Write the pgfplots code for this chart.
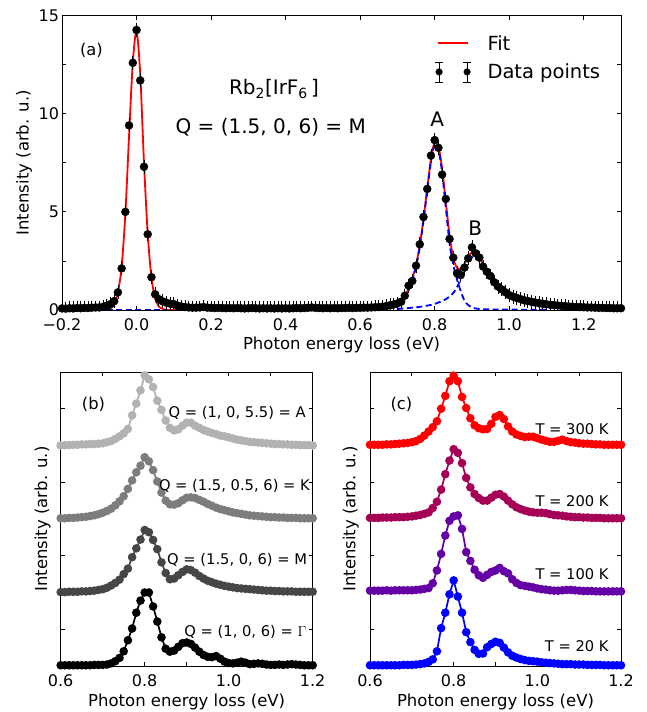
\documentclass[border=0pt]{standalone}
\usepackage{pgfplots}
\usepackage{pgfplotstable}
\pgfplotsset{compat=1.18}
\usepackage{fontspec}
\setmainfont{DejaVu Sans}

\definecolor{gA}{RGB}{178,178,178}
\definecolor{gK}{RGB}{125,125,125}
\definecolor{gM}{RGB}{70,70,70}
\definecolor{c300}{RGB}{255,0,0}
\definecolor{c200}{RGB}{165,0,85}
\definecolor{c100}{RGB}{100,0,165}
\definecolor{c20}{RGB}{0,0,255}

\pgfplotstableread{
x y
-0.20 0.08
-0.19 0.07
-0.18 0.09
-0.17 0.08
-0.16 0.10
-0.15 0.09
-0.14 0.11
-0.13 0.10
-0.12 0.12
-0.11 0.13
-0.10 0.13
-0.09 0.16
-0.08 0.22
-0.07 0.30
-0.06 0.45
-0.05 0.90
-0.04 2.12
-0.03 5.00
-0.02 9.41
-0.01 12.60
0.00 14.27
0.01 11.70
0.02 7.30
0.03 3.86
0.04 1.67
0.05 0.80
0.06 0.55
0.07 0.44
0.08 0.37
0.09 0.32
0.10 0.30
0.11 0.22
0.12 0.18
0.13 0.15
0.14 0.13
0.15 0.12
0.16 0.12
0.17 0.13
0.18 0.15
0.19 0.12
0.20 0.11
0.21 0.10
0.22 0.11
0.23 0.10
0.24 0.09
0.25 0.10
0.26 0.09
0.27 0.10
0.28 0.09
0.29 0.08
0.30 0.09
0.31 0.10
0.32 0.09
0.33 0.08
0.34 0.09
0.35 0.08
0.36 0.09
0.37 0.08
0.38 0.09
0.39 0.08
0.40 0.09
0.41 0.08
0.42 0.09
0.43 0.10
0.44 0.09
0.45 0.10
0.46 0.11
0.47 0.13
0.48 0.11
0.49 0.10
0.50 0.09
0.51 0.10
0.52 0.09
0.53 0.10
0.54 0.09
0.55 0.10
0.56 0.10
0.57 0.11
0.58 0.10
0.59 0.11
0.60 0.11
0.61 0.12
0.62 0.12
0.63 0.13
0.64 0.14
0.65 0.15
0.66 0.17
0.67 0.20
0.68 0.24
0.69 0.28
0.70 0.33
0.71 0.42
0.72 0.73
0.73 1.24
0.74 1.48
0.75 2.26
0.76 3.35
0.77 4.74
0.78 6.17
0.79 7.87
0.80 8.66
0.81 8.27
0.82 6.90
0.83 5.66
0.84 3.62
0.85 2.67
0.86 1.87
0.87 1.78
0.88 2.16
0.89 2.63
0.90 3.19
0.91 2.89
0.92 2.67
0.93 2.21
0.94 1.95
0.95 1.73
0.96 1.41
0.97 1.19
0.98 1.05
0.99 0.90
1.00 0.76
1.01 0.68
1.02 0.62
1.03 0.56
1.04 0.50
1.05 0.46
1.06 0.42
1.07 0.38
1.08 0.35
1.09 0.32
1.10 0.29
1.11 0.27
1.12 0.25
1.13 0.23
1.14 0.21
1.15 0.20
1.16 0.18
1.17 0.17
1.18 0.16
1.19 0.15
1.20 0.14
1.21 0.13
1.22 0.13
1.23 0.12
1.24 0.11
1.25 0.11
1.26 0.10
1.27 0.10
1.28 0.09
1.29 0.09
1.30 0.09
}\topdata

\pgfplotstableread{
x y
-0.20 0
-0.10 0
-0.08 0.02
-0.07 0.08
-0.06 0.30
-0.05 0.90
-0.04 2.20
-0.03 4.90
-0.02 8.90
-0.01 12.60
0.00 14.20
0.01 12.00
0.02 7.50
0.03 3.90
0.04 1.65
0.05 0.60
0.06 0.18
0.07 0.05
0.08 0.01
0.10 0
0.40 0
0.60 0.03
0.65 0.06
0.68 0.13
0.70 0.25
0.71 0.40
0.72 0.70
0.73 1.10
0.74 1.60
0.75 2.30
0.76 3.30
0.77 4.65
0.78 6.20
0.79 7.70
0.80 8.55
0.81 8.35
0.82 7.20
0.83 5.50
0.84 3.80
0.85 2.65
0.86 2.15
0.87 2.10
0.88 2.35
0.89 2.70
0.90 2.95
0.91 2.92
0.92 2.68
0.93 2.35
0.94 2.00
0.95 1.68
0.96 1.40
0.97 1.17
0.98 0.98
0.99 0.82
1.00 0.70
1.02 0.52
1.05 0.38
1.10 0.22
1.15 0.13
1.20 0.08
1.30 0.03
}\fitdata

\pgfplotstableread{
x y
0.60 0.02
0.65 0.05
0.68 0.10
0.70 0.20
0.71 0.32
0.72 0.60
0.73 1.00
0.74 1.50
0.75 2.20
0.76 3.20
0.77 4.55
0.78 6.05
0.79 7.55
0.80 8.45
0.81 8.20
0.82 7.00
0.83 5.20
0.84 3.40
0.85 2.30
0.86 1.55
0.87 0.95
0.88 0.48
0.89 0.25
0.90 0.12
0.92 0.05
0.95 0.03
1.00 0.02
1.10 0.01
}\compA

\pgfplotstableread{
x y
0.70 0.05
0.73 0.10
0.76 0.16
0.79 0.26
0.81 0.38
0.83 0.55
0.84 0.68
0.85 0.87
0.86 1.17
0.87 1.55
0.88 1.98
0.89 2.40
0.90 2.70
0.91 2.80
0.92 2.62
0.93 2.30
0.94 1.97
0.95 1.65
0.96 1.37
0.97 1.14
0.98 0.95
0.99 0.79
1.00 0.66
1.02 0.47
1.05 0.30
1.10 0.15
1.15 0.08
1.20 0.04
1.30 0.01
}\compB

\pgfplotstableread{
x A K M G
0.60 6.00 4.02 2.01 0.02
0.61 6.01 4.02 2.01 0.02
0.62 6.01 4.03 2.02 0.02
0.63 6.02 4.03 2.02 0.02
0.64 6.02 4.04 2.02 0.02
0.65 6.03 4.05 2.03 0.02
0.66 6.03 4.06 2.03 0.02
0.67 6.04 4.08 2.04 0.02
0.68 6.04 4.10 2.05 0.03
0.69 6.05 4.13 2.07 0.03
0.70 6.06 4.17 2.09 0.03
0.71 6.09 4.22 2.13 0.04
0.72 6.12 4.28 2.19 0.07
0.73 6.18 4.37 2.26 0.13
0.74 6.25 4.48 2.35 0.22
0.75 6.33 4.62 2.50 0.40
0.76 6.45 4.82 2.65 0.70
0.77 6.82 5.05 2.96 1.02
0.78 7.14 5.27 3.20 1.45
0.79 7.50 5.45 3.44 1.78
0.80 7.91 5.68 3.70 2.00
0.81 7.80 5.57 3.64 2.00
0.82 7.59 5.33 3.43 1.62
0.83 7.22 5.02 3.18 1.21
0.84 6.97 4.72 2.82 0.78
0.85 6.68 4.50 2.53 0.47
0.86 6.48 4.40 2.36 0.39
0.87 6.41 4.39 2.38 0.42
0.88 6.44 4.43 2.47 0.52
0.89 6.54 4.51 2.56 0.62
0.90 6.62 4.58 2.63 0.64
0.91 6.62 4.59 2.61 0.60
0.92 6.54 4.57 2.54 0.50
0.93 6.48 4.52 2.45 0.39
0.94 6.42 4.47 2.38 0.30
0.95 6.38 4.41 2.32 0.25
0.96 6.34 4.36 2.28 0.24
0.97 6.31 4.31 2.24 0.27
0.98 6.27 4.27 2.21 0.20
0.99 6.25 4.24 2.18 0.12
1.00 6.22 4.21 2.16 0.08
1.01 6.19 4.18 2.14 0.07
1.02 6.16 4.16 2.12 0.09
1.03 6.14 4.14 2.11 0.12
1.04 6.12 4.12 2.10 0.09
1.05 6.10 4.10 2.09 0.05
1.06 6.09 4.09 2.08 0.06
1.07 6.08 4.08 2.07 0.07
1.08 6.07 4.07 2.06 0.06
1.09 6.06 4.06 2.05 0.04
1.10 6.05 4.05 2.05 0.03
1.11 6.04 4.05 2.04 0.03
1.12 6.04 4.04 2.04 0.04
1.13 6.03 4.04 2.03 0.03
1.14 6.03 4.03 2.03 0.04
1.15 6.02 4.03 2.03 0.05
1.16 6.02 4.03 2.02 0.04
1.17 6.01 4.02 2.02 0.03
1.18 6.01 4.02 2.02 0.02
1.19 6.01 4.02 2.02 0.02
1.20 6.00 4.02 2.02 0.02
}\bdata

\pgfplotstableread{
x T300 T200 T100 T20
0.60 6.02 4.03 2.05 0.02
0.61 6.02 4.03 2.05 0.02
0.62 6.02 4.03 2.05 0.02
0.63 6.02 4.04 2.05 0.02
0.64 6.03 4.04 2.06 0.02
0.65 6.03 4.04 2.05 0.02
0.66 6.04 4.05 2.06 0.02
0.67 6.05 4.05 2.06 0.02
0.68 6.06 4.05 2.06 0.03
0.69 6.07 4.06 2.06 0.03
0.70 6.09 4.07 2.06 0.03
0.71 6.12 4.09 2.07 0.04
0.72 6.18 4.11 2.08 0.05
0.73 6.27 4.14 2.10 0.07
0.74 6.38 4.18 2.12 0.11
0.75 6.50 4.30 2.25 0.18
0.76 6.66 4.47 2.60 0.40
0.77 7.00 4.80 3.05 1.03
0.78 7.35 5.22 3.55 1.45
0.79 7.75 5.59 3.95 1.95
0.80 7.90 5.90 4.07 2.33
0.81 7.75 5.80 4.10 1.89
0.82 7.32 5.52 3.73 1.45
0.83 7.02 5.12 3.10 0.92
0.84 6.74 4.86 2.86 0.65
0.85 6.55 4.68 2.62 0.44
0.86 6.47 4.57 2.47 0.33
0.87 6.44 4.50 2.40 0.34
0.88 6.45 4.50 2.48 0.51
0.89 6.59 4.58 2.56 0.60
0.90 6.78 4.66 2.60 0.66
0.91 6.83 4.68 2.67 0.63
0.92 6.72 4.61 2.58 0.50
0.93 6.52 4.50 2.52 0.37
0.94 6.38 4.40 2.36 0.28
0.95 6.30 4.32 2.26 0.23
0.96 6.26 4.27 2.20 0.19
0.97 6.23 4.23 2.18 0.16
0.98 6.24 4.20 2.16 0.14
0.99 6.24 4.18 2.14 0.13
1.00 6.20 4.17 2.11 0.12
1.01 6.16 4.17 2.09 0.10
1.02 6.13 4.16 2.08 0.09
1.03 6.10 4.13 2.06 0.08
1.04 6.10 4.11 2.05 0.07
1.05 6.13 4.10 2.05 0.06
1.06 6.16 4.09 2.06 0.05
1.07 6.12 4.07 2.07 0.05
1.08 6.09 4.06 2.07 0.05
1.09 6.08 4.05 2.06 0.04
1.10 6.06 4.05 2.05 0.04
1.11 6.05 4.04 2.04 0.04
1.12 6.05 4.04 2.04 0.03
1.13 6.04 4.03 2.04 0.03
1.14 6.03 4.03 2.03 0.03
1.15 6.03 4.03 2.03 0.03
1.16 6.02 4.02 2.03 0.02
1.17 6.02 4.02 2.03 0.02
1.18 6.02 4.02 2.03 0.02
1.19 6.02 4.02 2.03 0.02
1.20 6.02 4.02 2.03 0.02
}\cdata

\pgfplotsset{
  base/.style={
    scale only axis, clip mode=individual,
    tick align=inside, major tick length=4pt,
    axis line style={line width=0.8pt},
    every tick/.style={black, line width=0.8pt},
    tick label style={font=\fontsize{16}{18}\selectfont},
    label style={font=\fontsize{16.5}{19}\selectfont},
    xticklabel style={anchor=base, yshift=-20.5pt},
    yticklabel style={anchor=east, inner sep=0pt, xshift=-2.7pt},
    xlabel={Photon energy loss (eV)},
    ylabel={Intensity (arb. u.)},
    xlabel style={at={([yshift=-40pt]axis description cs:0.5,0)}, anchor=base},
  },
  lower/.style={
    base, width=252pt, height=294pt,
    xmin=0.6, xmax=1.2, ymin=0, ymax=8,
    xtick={0.6,0.7,0.8,0.9,1.0,1.1,1.2},
    xticklabels={0.6,,0.8,,1.0,,1.2},
    ytick={0,1,2,3,4,5,6,7,8}, yticklabels={},
  },
  curve/.style={#1, line width=1.7pt, mark=*, mark size=3.4pt, mark options={#1}},
}

\begin{document}
\begin{tikzpicture}
\useasboundingbox (0,0) rectangle (647pt,712pt);

% ---- panel (a)
\begin{axis}[base, at={(62pt,402pt)}, anchor=south west,
  width=559pt, height=294.3pt,
  xmin=-0.2, xmax=1.3, ymin=0, ymax=15,
  xtick={-0.2,0,0.2,0.4,0.6,0.8,1.0,1.2},
  xticklabels={−0.2,0.0,0.2,0.4,0.6,0.8,1.0,1.2},
  ytick={0,2.5,5,7.5,10,12.5,15}, yticklabels={0,,5,,10,,15},
  ylabel style={at={([xshift=-33.3pt]axis description cs:0,0.5)}, anchor=base},
  legend style={draw=none, fill=none, at={(0.661,0.948)}, anchor=north west,
    font=\fontsize{19.5}{22}\selectfont, row sep=8pt, column sep=14pt},
  legend cell align=left,
]
\addlegendimage{legend image code/.code={\draw[red,line width=1.8pt] (0pt,0pt) -- (30pt,0pt);}}
\addlegendentry{Fit}
\addlegendimage{legend image code/.code={%
  \draw[black,line width=0.8pt] (1pt,-10pt) -- (1pt,10pt) (-3pt,-10pt) -- (5pt,-10pt) (-3pt,10pt) -- (5pt,10pt)
     (29pt,-10pt) -- (29pt,10pt) (25pt,-10pt) -- (33pt,-10pt) (25pt,10pt) -- (33pt,10pt);
  \fill[black] (1pt,0pt) circle (3.3pt) (29pt,0pt) circle (3.3pt);}}
\addlegendentry{Data points}
\addplot[red, line width=1.8pt, smooth, forget plot]
  table[x=x,y=y] {\fitdata};
\addplot[blue, line width=1.8pt, dash pattern=on 6pt off 3.5pt, forget plot]
  coordinates {(-0.08,0) (0.08,0)};
\addplot[blue, line width=1.8pt, dash pattern=on 6pt off 3.5pt, smooth, forget plot]
  table[x=x,y=y] {\compA};
\addplot[blue, line width=1.8pt, dash pattern=on 6pt off 3.5pt, smooth, forget plot]
  table[x=x,y=y] {\compB};
\addplot[black, only marks, mark=*, mark size=4pt, forget plot,
  error bars/.cd, y dir=both, y fixed=0.15,
  error bar style={line width=0.8pt, black},
  error mark options={mark size=4pt, line width=0.8pt, black},
  ]
  table[x=x,y=y] {\topdata};
\node[font=\fontsize{16.3}{19}\selectfont] at (axis cs:-0.121,13.23) {(a)};
\node[font=\fontsize{20}{24}\selectfont] at (axis cs:0.369,11.26) {Rb\textsubscript{2}[IrF\textsubscript{6}\,]};
\node[font=\fontsize{20}{24}\selectfont] at (axis cs:0.360,9.30) {Q = (1.5, 0, 6) = M};
\node[font=\fontsize{20}{24}\selectfont] at (axis cs:0.807,9.71) {A};
\node[font=\fontsize{20}{24}\selectfont] at (axis cs:0.909,4.15) {B};
\end{axis}

% ---- panel (b)
\begin{axis}[lower, at={(60.7pt,46pt)}, anchor=south west,
  ylabel style={at={([xshift=-13.7pt]axis description cs:0,0.5)}, anchor=base},
]
\addplot[curve=gA] table[x=x,y=A] {\bdata};
\addplot[curve=gK] table[x=x,y=K] {\bdata};
\addplot[curve=gM] table[x=x,y=M] {\bdata};
\addplot[curve=black] table[x=x,y=G] {\bdata};
\node[font=\fontsize{16.3}{19}\selectfont] at (axis cs:0.678,7.11) {(b)};
\node[anchor=east, inner sep=0pt, font=\fontsize{14.7}{17}\selectfont] at (axis cs:1.184,6.89) {Q = (1, 0, 5.5) = A};
\node[anchor=east, inner sep=0pt, font=\fontsize{14.7}{17}\selectfont] at (axis cs:1.1936,4.89) {Q = (1.5, 0.5, 6) = K};
\node[anchor=east, inner sep=0pt, font=\fontsize{14.7}{17}\selectfont] at (axis cs:1.187,2.89) {Q = (1.5, 0, 6) = M};
\node[anchor=east, inner sep=0pt, font=\fontsize{14.7}{17}\selectfont] at (axis cs:1.1855,0.93) {Q = (1, 0, 6) = $\Gamma$};
\end{axis}

% ---- panel (c)
\begin{axis}[lower, at={(370pt,46pt)}, anchor=south west, width=251pt,
  ylabel style={at={([xshift=-14.7pt]axis description cs:0,0.5)}, anchor=base},
]
\addplot[curve=c300] table[x=x,y=T300] {\cdata};
\addplot[curve=c200] table[x=x,y=T200] {\cdata};
\addplot[curve=c100] table[x=x,y=T100] {\cdata};
\addplot[curve=c20] table[x=x,y=T20] {\cdata};
\node[font=\fontsize{16.3}{19}\selectfont] at (axis cs:0.675,7.11) {(c)};
\node[anchor=east, inner sep=0pt, font=\fontsize{14.7}{17}\selectfont] at (axis cs:1.1707,6.45) {T = 300 K};
\node[anchor=east, inner sep=0pt, font=\fontsize{14.7}{17}\selectfont] at (axis cs:1.1707,4.48) {T = 200 K};
\node[anchor=east, inner sep=0pt, font=\fontsize{14.7}{17}\selectfont] at (axis cs:1.1707,2.51) {T = 100 K};
\node[anchor=east, inner sep=0pt, font=\fontsize{14.7}{17}\selectfont] at (axis cs:1.1707,0.53) {T = 20 K};
\end{axis}
\end{tikzpicture}
\end{document}
